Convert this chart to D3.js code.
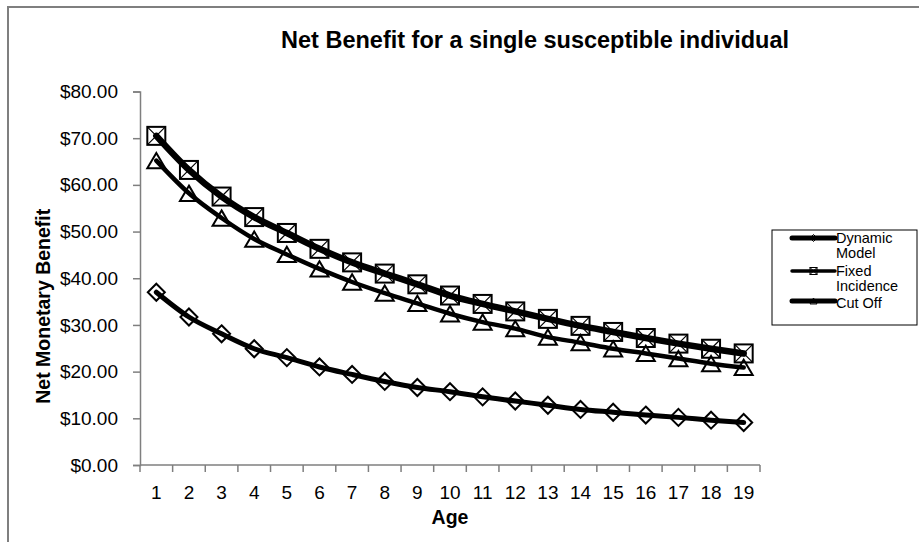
<!DOCTYPE html>
<html>
<head>
<meta charset="utf-8">
<script src="https://cdn.jsdelivr.net/npm/d3@7"></script>
<style>
  html, body { margin: 0; padding: 0; background: #fff; }
  svg { display: block; font-family: Arial, "Liberation Sans", sans-serif; }
</style>
</head>
<body>
<svg id="chart" width="919" height="542"></svg>
<script>
// Net monetary benefit by age, three model variants
const ages = [1,2,3,4,5,6,7,8,9,10,11,12,13,14,15,16,17,18,19];
const dynamicModel   = [37.0,31.7,28.1,24.9,23.0,21.0,19.4,17.9,16.6,15.7,14.6,13.7,12.8,11.9,11.3,10.7,10.2,9.6,9.1];
const fixedIncidence = [70.5,63.2,57.5,53.1,49.7,46.3,43.4,41.0,38.7,36.3,34.5,32.9,31.3,29.8,28.5,27.2,26.0,24.9,23.9];
const cutOff         = [65.2,58.2,52.9,48.4,45.1,42.0,39.2,36.8,34.6,32.4,30.6,29.2,27.4,26.2,24.9,23.9,22.8,21.7,20.9];
const yTicks = [0,10,20,30,40,50,60,70,80];
const seriesNames = ["Dynamic Model", "Fixed Incidence", "Cut Off"];

const svg = d3.select("#chart");

// outer chart frame
svg.append("rect")
  .attr("x", 8).attr("y", 7).attr("width", 1000).attr("height", 1000)
  .attr("fill", "none").attr("stroke", "#7f7f7f").attr("stroke-width", 2);

const plot = { left: 140, right: 760, top: 91.5, bottom: 465 };

const x = d3.scaleBand().domain(ages).range([plot.left, plot.right]).padding(0);
const y = d3.scaleLinear().domain([0, 80]).range([plot.bottom, plot.top]);

// title
svg.append("text")
  .attr("x", 535).attr("y", 48)
  .attr("text-anchor", "middle")
  .attr("font-size", 23.5).attr("font-weight", "bold")
  .text("Net Benefit for a single susceptible individual");

// y axis
const yAxis = svg.append("g")
  .attr("transform", `translate(${plot.left},0)`)
  .call(d3.axisLeft(y).tickValues(yTicks).tickFormat(d3.format("$.2f")).tickSize(7).tickPadding(15));
yAxis.select(".domain").attr("stroke", "#7f7f7f").attr("stroke-width", 1.5);
yAxis.selectAll(".tick line").attr("stroke", "#7f7f7f").attr("stroke-width", 1.5);
yAxis.selectAll(".tick text").attr("font-size", 19).attr("fill", "#000")
  .attr("font-family", "Arial, 'Liberation Sans', sans-serif");

// x axis: baseline, ticks between categories, labels centred on categories
const xAxis = svg.append("g");
xAxis.append("line")
  .attr("x1", plot.left).attr("x2", plot.right)
  .attr("y1", plot.bottom).attr("y2", plot.bottom)
  .attr("stroke", "#7f7f7f").attr("stroke-width", 1.5);
const bounds = ages.map(a => x(a)).concat([x(ages[ages.length - 1]) + x.bandwidth()]);
xAxis.selectAll("line.tick").data(bounds).join("line")
  .attr("class", "tick")
  .attr("x1", d => d).attr("x2", d => d)
  .attr("y1", plot.bottom).attr("y2", plot.bottom + 7)
  .attr("stroke", "#7f7f7f").attr("stroke-width", 1.5);
xAxis.selectAll("text").data(ages).join("text")
  .attr("x", d => x(d) + x.bandwidth() / 2)
  .attr("y", 499)
  .attr("text-anchor", "middle")
  .attr("font-size", 19)
  .text(d => d);

// axis titles
svg.append("text")
  .attr("x", x(10) + x.bandwidth() / 2).attr("y", 524)
  .attr("text-anchor", "middle")
  .attr("font-size", 19.5).attr("font-weight", "bold")
  .text("Age");
svg.append("text")
  .attr("transform", `translate(50,${(plot.top + plot.bottom) / 2 + 28}) rotate(-90)`)
  .attr("text-anchor", "middle")
  .attr("font-size", 19.5).attr("font-weight", "bold")
  .text("Net Monetary Benefit");

// marker shapes
function diamond(g, s) {
  const h = s / 2;
  g.append("path").attr("d", `M0,${-h}L${h},0L0,${h}L${-h},0Z`)
    .attr("fill", "none").attr("stroke", "#000").attr("stroke-width", 2);
}
function square(g, s) {
  const h = s / 2;
  g.append("rect").attr("x", -h).attr("y", -h).attr("width", s).attr("height", s)
    .attr("fill", "none").attr("stroke", "#000").attr("stroke-width", 2);
  g.append("path").attr("d", `M${-h},${-h}L${h},${h}M${h},${-h}L${-h},${h}`)
    .attr("fill", "none").attr("stroke", "#000").attr("stroke-width", 1.2);
}
function triangle(g, s) {
  const h = s / 2;
  g.append("path").attr("d", `M0,${-h * 0.85}L${h},${h * 0.85}L${-h},${h * 0.85}Z`)
    .attr("fill", "none").attr("stroke", "#000").attr("stroke-width", 2);
}

const series = [
  { name: seriesNames[0], values: dynamicModel,   width: 5,   marker: diamond,  size: 17, legendWidth: 5 },
  { name: seriesNames[1], values: fixedIncidence, width: 6.5, marker: square,   size: 18, legendWidth: 3.5 },
  { name: seriesNames[2], values: cutOff,         width: 4.5, marker: triangle, size: 18, legendWidth: 5 }
];

const line = d3.line()
  .x((d, i) => x(ages[i]) + x.bandwidth() / 2)
  .y(d => y(d))
  .curve(d3.curveMonotoneX);

series.forEach(s => {
  svg.append("path")
    .datum(s.values)
    .attr("d", line)
    .attr("fill", "none")
    .attr("stroke", "#000")
    .attr("stroke-width", s.width)
    .attr("stroke-linecap", "round");
});

series.forEach(s => {
  s.values.forEach((v, i) => {
    const g = svg.append("g")
      .attr("transform", `translate(${x(ages[i]) + x.bandwidth() / 2},${y(v)})`);
    s.marker(g, s.size);
  });
});

// legend: each entry's name wraps onto two lines within one text element
const legend = svg.append("g");
legend.append("rect")
  .attr("x", 772).attr("y", 230).attr("width", 145).attr("height", 95)
  .attr("fill", "#fff").attr("stroke", "#000").attr("stroke-width", 1);

const legendRows = [
  { lineY: 238, lines: ["Dynamic", "Model"], first: 243 },
  { lineY: 271, lines: ["Fixed", "Incidence"], first: 275.5 },
  { lineY: 301, lines: ["Cut Off"], first: 307.5 }
];
legendRows.forEach((r, i) => {
  const s = series[i];
  legend.append("line")
    .attr("x1", 792).attr("x2", 835).attr("y1", r.lineY).attr("y2", r.lineY)
    .attr("stroke", "#000").attr("stroke-width", s.legendWidth).attr("stroke-linecap", "round");
  const g = legend.append("g").attr("transform", `translate(813.5,${r.lineY})`);
  s.marker(g, 7);
  g.selectAll("*").attr("stroke-width", 1);
  const t = legend.append("text")
    .attr("x", 836).attr("y", r.first)
    .attr("font-size", 14.5);
  r.lines.forEach((str, j) => {
    t.append("tspan")
      .attr("x", 836)
      .attr("dy", j === 0 ? 0 : 15)
      .text(str);
  });
});
</script>
</body>
</html>
